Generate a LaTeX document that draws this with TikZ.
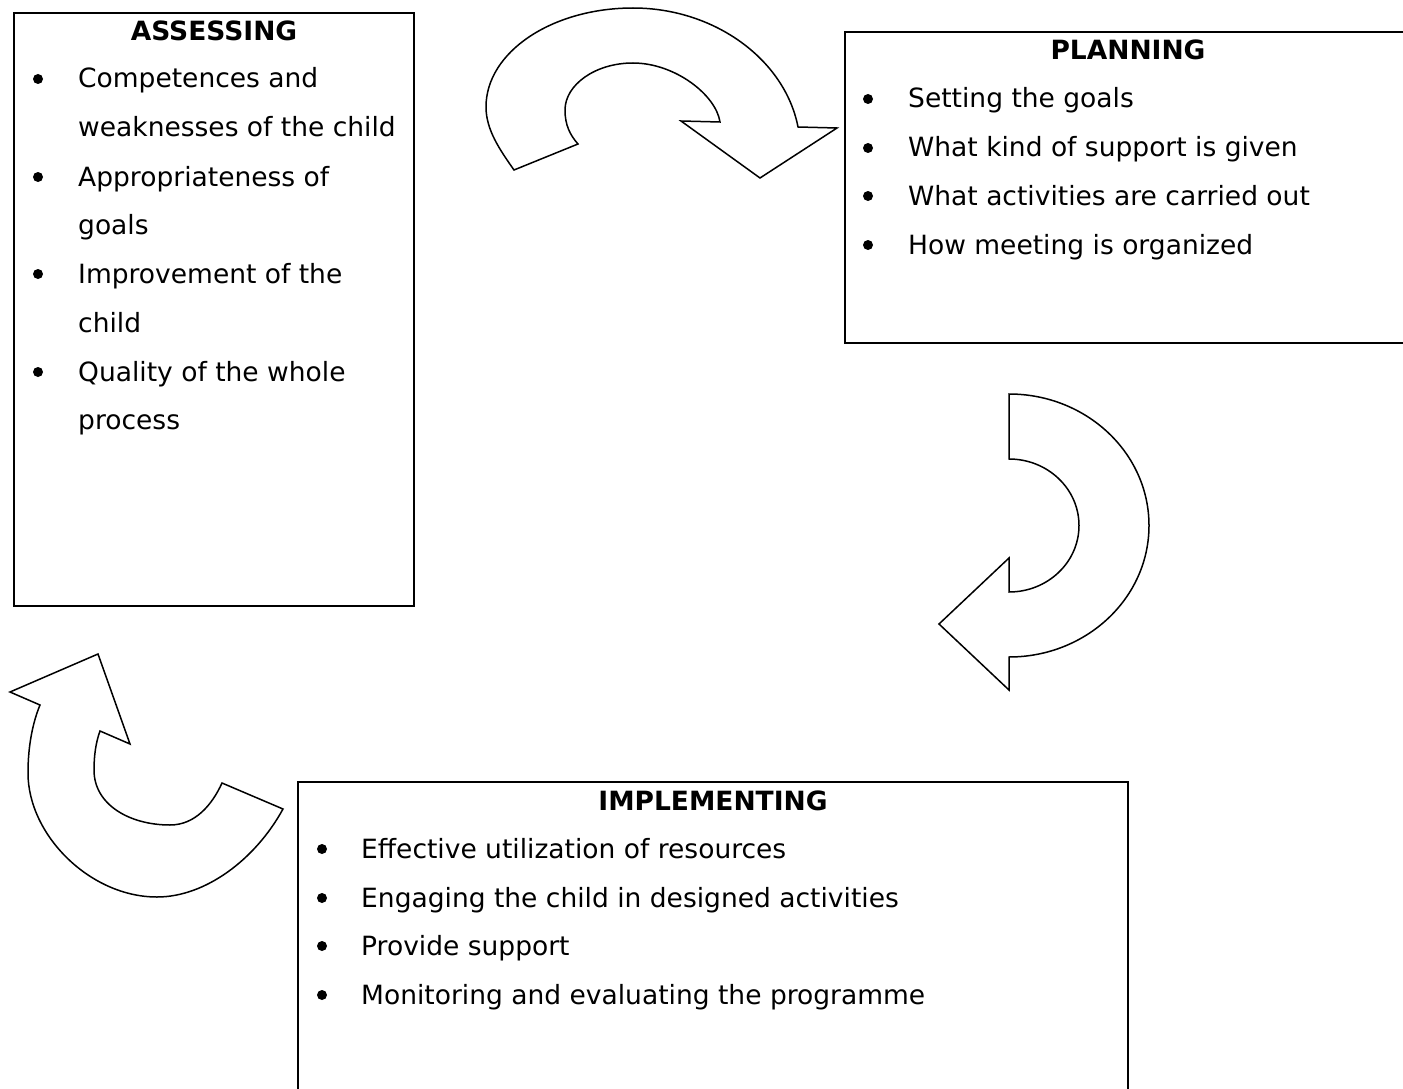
\documentclass[tikz,border=0pt]{standalone}
\usepackage{fontspec}
\setmainfont{DejaVu Sans}
\begin{document}
\begin{tikzpicture}[x=1pt,y=-1pt,
		font=\fontsize{26.5}{30}\selectfont,
		box/.style={draw,line width=1.8pt,inner sep=0pt},
		title/.style={anchor=base,font=\fontsize{26.5}{30}\selectfont\bfseries},
		item/.style={anchor=base west,inner sep=0pt},
		turn/.style={draw,line width=1.5pt,line join=miter}]
		\useasboundingbox (0,0) rectangle (1403,1089);
		\clip (0,0) rectangle (1403,1089);
		
		% boxes
		\node[box,minimum width=400,minimum height=593] (assess) at (214,309.5) {};
		\node[box,minimum width=566,minimum height=311] (plan) at (1128,187.5) {};
		\node[box,minimum width=830,minimum height=330] (implement) at (713,947) {};
		
		% titles
		\node[title] (assesstitle) at (214,41) {ASSESSING};
		\node[title] (plantitle) at (1128,60) {PLANNING};
		\node[title] (impltitle) at (713,810) {IMPLEMENTING};
		
		% items
		\foreach \y/\t in {88/Competences and,137/weaknesses of the child,186/Appropriateness of,
			234/goals,283/Improvement of the,332/child,381/Quality of the whole,429/process}
		\node[item] (as\y) at (78,\y) {\t};
		\foreach \y/\t in {108/Setting the goals,157/What kind of support is given,
			205/What activities are carried out,254/How meeting is organized}
		\node[item] (pl\y) at (908,\y) {\t};
		\foreach \y/\t in {858/Effective utilization of resources,907/Engaging the child in designed activities,
			955/Provide support,1004/Monitoring and evaluating the programme}
		\node[item] (im\y) at (361,\y) {\t};
		
		% bullets
		\foreach \y in {79,177,274,372}
		\fill (38,\y) circle[radius=5];
		\foreach \y in {99,148,196,245}
		\fill (868,\y) circle[radius=5];
		\foreach \y in {849,898,946,995}
		\fill (322,\y) circle[radius=5];
		
		% turning arrows
		\draw[turn] (514,170) .. controls (500,150) and (486,130) .. (486,107)
		.. controls (486,52) and (552,8) .. (633,8)
		.. controls (715,8) and (785,60) .. (798,127)
		-- (837,128) -- (760,178) -- (681,121) -- (720,122)
		.. controls (716,95) and (675,63) .. (633,63)
		.. controls (595,63) and (565,85) .. (565,110)
		.. controls (565,125) and (570,135) .. (578,144)
		-- cycle;
		\draw[turn] (1009,394) arc[start angle=-90,end angle=90,x radius=140,y radius=131.5]
		-- (1009,690) -- (939,624) -- (1009,558) -- (1009,592)
		arc[start angle=90,end angle=-90,x radius=70,y radius=66.5]
		-- cycle;
		\draw[turn] (283,809) .. controls (255,860) and (205,897) .. (157,897)
		.. controls (90,897) and (28,835) .. (28,773)
		.. controls (28,745) and (33,722) .. (40,705)
		-- (10,692) -- (98,654) -- (130,744) -- (100,731)
		.. controls (96,742) and (94,755) .. (94,770)
		.. controls (94,805) and (130,825) .. (170,825)
		.. controls (195,825) and (212,805) .. (222,783)
		-- cycle;
\end{tikzpicture}
\end{document}
